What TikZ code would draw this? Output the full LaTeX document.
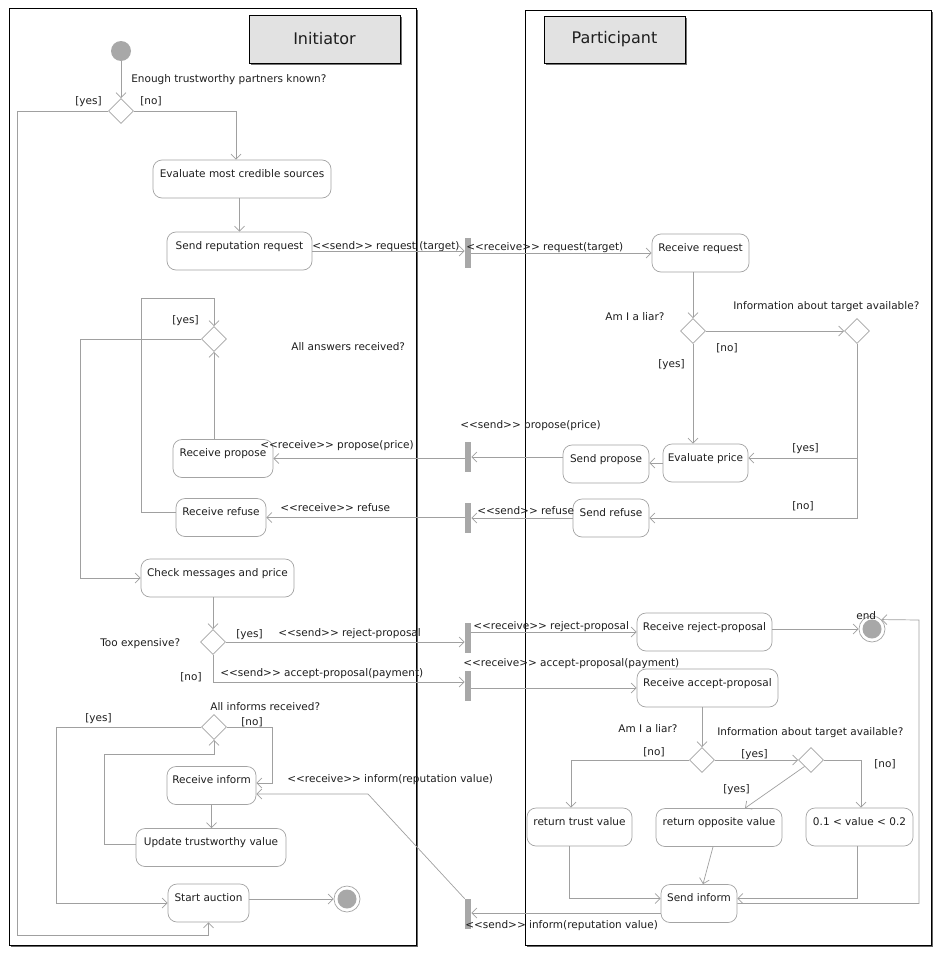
\documentclass[tikz,border=0pt]{standalone}
\usepackage{fontspec}
\setmainfont{DejaVu Sans}
\usetikzlibrary{arrows.meta, positioning, calc, shapes.geometric, shadows}
\definecolor{linegray}{HTML}{A0A0A0}
\definecolor{boxgray}{HTML}{A4A4A4}
\definecolor{bargray}{HTML}{A8A8A8}
\definecolor{headfill}{HTML}{E2E2E2}
\definecolor{txt}{HTML}{1E1E1E}
\newcommand{\lblfont}{\fontsize{10.5}{12}\selectfont}
% stereotype brackets, kept apart so they do not turn into guillemets
\newcommand{\stereo}[1]{<\kern0pt<#1>\kern0pt>}
\tikzset{
    activity/.style={>={Straight Barb[length=5pt,width=10pt]}, line width=0.7pt, font=\lblfont, text=txt},
    action/.style={draw=boxgray, rounded corners=9pt, minimum height=38pt, text height=12.5pt, text depth=16.5pt, inner ysep=4.5pt, inner xsep=2pt},
    decision/.style={diamond, draw=boxgray, aspect=1, minimum width=25pt, minimum height=25pt, inner sep=0pt},
    syncbar/.style={rectangle, fill=bargray, minimum width=6pt, minimum height=30pt, inner sep=0pt},
    startnode/.style={circle, fill=bargray, minimum size=20pt, inner sep=0pt},
    endnode/.style={circle, draw=boxgray, minimum size=26pt, inner sep=0pt,
        path picture={\fill[bargray] (path picture bounding box.center) circle (9.5pt);}},
    flow/.style={draw=linegray, ->},
    txtlbl/.style={inner sep=0pt, anchor=base west},
    lanehead/.style={draw=black, fill=headfill, inner sep=0pt, font=\fontsize{16}{18}\selectfont,
        drop shadow={shadow xshift=2pt, shadow yshift=-2pt, fill=black!55, opacity=1}},
    lane/.style={draw=black, line width=0.9pt, fill=white,
        drop shadow={shadow xshift=1.5pt, shadow yshift=-1.5pt, fill=black!60, opacity=1}},
}
\begin{document}
\begin{tikzpicture}[activity, x=1pt, y=-1pt]
    \useasboundingbox (0,0) rectangle (944,953);

    % swimlanes
    \path[lane] (9,8) rectangle (416,945);
    \path[lane] (525,10) rectangle (931,945);
    \node[lanehead, minimum width=151pt, minimum height=48pt] (hinit) at (324.5,39) {Initiator};
    \node[lanehead, minimum width=141pt, minimum height=47pt] (hpart) at (614.5,39.5) {Participant};

    % initiator
    \node[startnode]                         (start)    at (121,51)      {};
    \node[decision]                          (d1)       at (121,111)     {};
    \node[action, minimum width=178pt]       (eval)     at (242,179)     {Evaluate most credible sources};
    \node[action, minimum width=145pt]       (sendreq)  at (239.5,251)   {Send reputation request};
    \node[decision]                          (d4)       at (214,339)     {};
    \node[action, minimum width=100pt]       (recvprop) at (223,458.5)   {Receive propose};
    \node[action, minimum width=90pt]        (recvref)  at (221,517.5)   {Receive refuse};
    \node[action, minimum width=153pt]       (check)    at (217.5,578)   {Check messages and price};
    \node[decision]                          (d5)       at (213,642)     {};
    \node[decision]                          (d8)       at (214,727)     {};
    \node[action, minimum width=89pt]        (recvinf)  at (211.5,785.5) {Receive inform};
    \node[action, minimum width=150pt]       (update)   at (211,847.5)   {Update trustworthy value};
    \node[action, minimum width=81pt]        (auction)  at (208.5,903)   {Start auction};
    \node[endnode]                           (fin1)     at (347,899)     {};

    % message bars
    \node[syncbar] (b1) at (468,253) {};
    \node[syncbar] (b2) at (468,457) {};
    \node[syncbar] (b3) at (468,518) {};
    \node[syncbar] (b4) at (468,638) {};
    \node[syncbar] (b5) at (468,686) {};
    \node[syncbar] (b6) at (468,914) {};

    % participant
    \node[action, minimum width=97pt]        (recvreq)  at (700.5,253)   {Receive request};
    \node[decision]                          (d2)       at (693,331)     {};
    \node[decision]                          (d3)       at (857,331)     {};
    \node[action, minimum width=85pt]        (evalprice) at (705.5,463)  {Evaluate price};
    \node[action, minimum width=86pt]        (sendprop) at (606,464)     {Send propose};
    \node[action, minimum width=76pt]        (sendref)  at (611,518)     {Send refuse};
    \node[action, minimum width=135pt]       (recvrej)  at (704.5,632)   {Receive reject-proposal};
    \node[endnode]                           (fin2)     at (872,629)     {};
    \node[action, minimum width=141pt]       (recvacc)  at (707.5,688)   {Receive accept-proposal};
    \node[decision]                          (d6)       at (702,760)     {};
    \node[decision]                          (d7)       at (811,760)     {};
    \node[action, minimum width=105pt]       (rettrust) at (579.5,827)   {return trust value};
    \node[action, minimum width=126pt]       (retopp)   at (719,827.5)   {return opposite value};
    \node[action, minimum width=107pt]       (range)    at (859.5,827)   {0.1 < value < 0.2};
    \node[action, minimum width=76pt]        (sendinf)  at (699,903.5)   {Send inform};

    % questions, guards and messages
    \node[txtlbl] (q1)  at (131,82)  {Enough trustworthy partners known?};
    \node[txtlbl] (g1y) at (75,104)  {[yes]};
    \node[txtlbl] (g1n) at (140,104) {[no]};
    \node[txtlbl] (m1s) at (312,249) {\stereo{send} request (target)};
    \node[txtlbl] (m1r) at (466,250) {\stereo{receive} request(target)};
    \node[txtlbl] (g4y) at (172,323) {[yes]};
    \node[txtlbl] (q4)  at (291,350) {All answers received?};
    \node[txtlbl] (m2r) at (260,448) {\stereo{receive} propose(price)};
    \node[txtlbl] (m2s) at (460,428) {\stereo{send} propose(price)};
    \node[txtlbl] (m3r) at (280,511) {\stereo{receive} refuse};
    \node[txtlbl] (m3s) at (477,514) {\stereo{send} refuse};
    \node[txtlbl] (q5)  at (100,646) {Too expensive?};
    \node[txtlbl] (g5y) at (236,637) {[yes]};
    \node[txtlbl] (m4s) at (278,636) {\stereo{send} reject-proposal};
    \node[txtlbl] (g5n) at (180,680) {[no]};
    \node[txtlbl] (m5s) at (220,676) {\stereo{send} accept-proposal(payment)};
    \node[txtlbl] (q8)  at (210,710) {All informs received?};
    \node[txtlbl] (g8y) at (85,721)  {[yes]};
    \node[txtlbl] (g8n) at (241,725) {[no]};
    \node[txtlbl] (m6r) at (287,782) {\stereo{receive} inform(reputation value)};
    \node[txtlbl] (q2)  at (605,320) {Am I a liar?};
    \node[txtlbl] (q3)  at (733,309) {Information about target available?};
    \node[txtlbl] (g2n) at (716,351) {[no]};
    \node[txtlbl] (g2y) at (658,367) {[yes]};
    \node[txtlbl] (g3y) at (792,451) {[yes]};
    \node[txtlbl] (g3n) at (792,509) {[no]};
    \node[txtlbl] (m4r) at (473,629) {\stereo{receive} reject-proposal};
    \node[txtlbl] (lend) at (856,619) {end};
    \node[txtlbl] (m5r) at (463,666) {\stereo{receive} accept-proposal(payment)};
    \node[txtlbl] (q6)  at (618,732) {Am I a liar?};
    \node[txtlbl] (q7)  at (717,735) {Information about target available?};
    \node[txtlbl] (g6n) at (643,755) {[no]};
    \node[txtlbl] (g6y) at (741,757) {[yes]};
    \node[txtlbl] (g7n) at (874,767) {[no]};
    \node[txtlbl] (g7y) at (723,792) {[yes]};
    \node[txtlbl] (m6s) at (465,928) {\stereo{send} inform(reputation value)};

    % initiator flow
    \draw[flow] (start) -- (d1);
    \coordinate (yes1) at (17,935);
    \draw[flow] (d1.west) -| (yes1) -| (auction.south);
    \draw[flow] (d1.east) -| ([xshift=-6pt]eval.north);
    \draw[flow] (eval.south -| sendreq.north) -- (sendreq.north);

    % answers loop
    \draw[flow] (d4.south |- recvprop.north) -- (d4.south);
    \coordinate (loop4) at (141,298);
    \draw[flow] ([yshift=5pt]recvref.west) -| (loop4) -| (d4.north);
    \coordinate (yes4) at (80,578);
    \draw[flow] (d4.west) -| (yes4) -- (check.west);
    \draw[flow] (d5.north |- check.south) -- (d5.north);

    % informs loop
    \coordinate (no8) at (272,783);
    \draw[flow] (d8.east) -| (no8) -- (no8 -| recvinf.east);
    \draw[flow] (recvinf.south) -- (recvinf.south |- update.north);
    \coordinate (loop8) at (104,754);
    \draw[flow] ([yshift=3pt]update.west) -| (loop8) -| (d8.south);
    \coordinate (yes8) at (56,903);
    \draw[flow] (d8.west) -| (yes8) -- (auction.west);
    \draw[flow] (auction.east |- fin1.west) -- (fin1.west);

    % messages
    \draw[flow] (sendreq.east) -- (sendreq.east -| b1.west);
    \draw[flow] (b1.east |- recvreq.west) -- (recvreq.west);
    \draw[flow] ([yshift=7pt]sendprop.west) -- ([yshift=7pt]sendprop.west -| b2.east);
    \draw[flow] (b2.west |- recvprop.east) -- (recvprop.east);
    \draw[flow] (sendref.west) -- (sendref.west -| b3.east);
    \draw[flow] (b3.west |- recvref.east) -- (recvref.east);
    \draw[flow] (d5.east) -- (d5.east -| b4.west);
    \draw[flow] (b4.east |- recvrej.west) -- (recvrej.west);
    \draw[flow] (d5.south) |- ([yshift=4pt]b5.west);
    \draw[flow] (b5.east |- recvacc.west) -- (recvacc.west);
    \draw[flow] ([yshift=-9.5pt]sendinf.west) -- ([yshift=-9.5pt]sendinf.west -| b6.east);
    \coordinate (bend6) at (368,794);
    \draw[flow] (b6.north west) -- (bend6) -- (bend6 -| recvinf.east);

    % participant flow
    \draw[flow] (recvreq.south -| d2.north) -- (d2.north);
    \draw[flow] (d2.east) -- (d3.west);
    \draw[flow] (d2.south) -- (d2.south |- evalprice.north);
    \draw[flow] (d3.south) |- ([yshift=5pt]evalprice.east);
    \draw[flow] (d3.south) |- (sendref.east);
    \draw[flow] (evalprice.west) -- (evalprice.west -| sendprop.east);
    \draw[flow] (recvrej.east |- fin2.west) -- (fin2.west);
    \draw[flow] (d6.north |- recvacc.south) -- (d6.north);
    \draw[flow] (d6.west) -| ([xshift=-8.5pt]rettrust.north);
    \draw[flow] (d6.east) -- (d7.west);
    \draw[flow] (d7.east) -| ([xshift=1.5pt]range.north);
    \draw[flow] (d7.south west) -- ([xshift=26pt]retopp.north);
    \draw[flow] ([xshift=-6pt]retopp.south) -- ([xshift=4pt]sendinf.north);
    \draw[flow] ([xshift=-10.5pt]rettrust.south) |- ([yshift=5pt]sendinf.west);
    \draw[flow] ([xshift=-2.5pt]range.south) |- ([yshift=5pt]sendinf.east);
    \coordinate (back) at (919,620);
    \draw[flow] (sendinf.east) -| (back) -- (fin2.north east);
\end{tikzpicture}
\end{document}
